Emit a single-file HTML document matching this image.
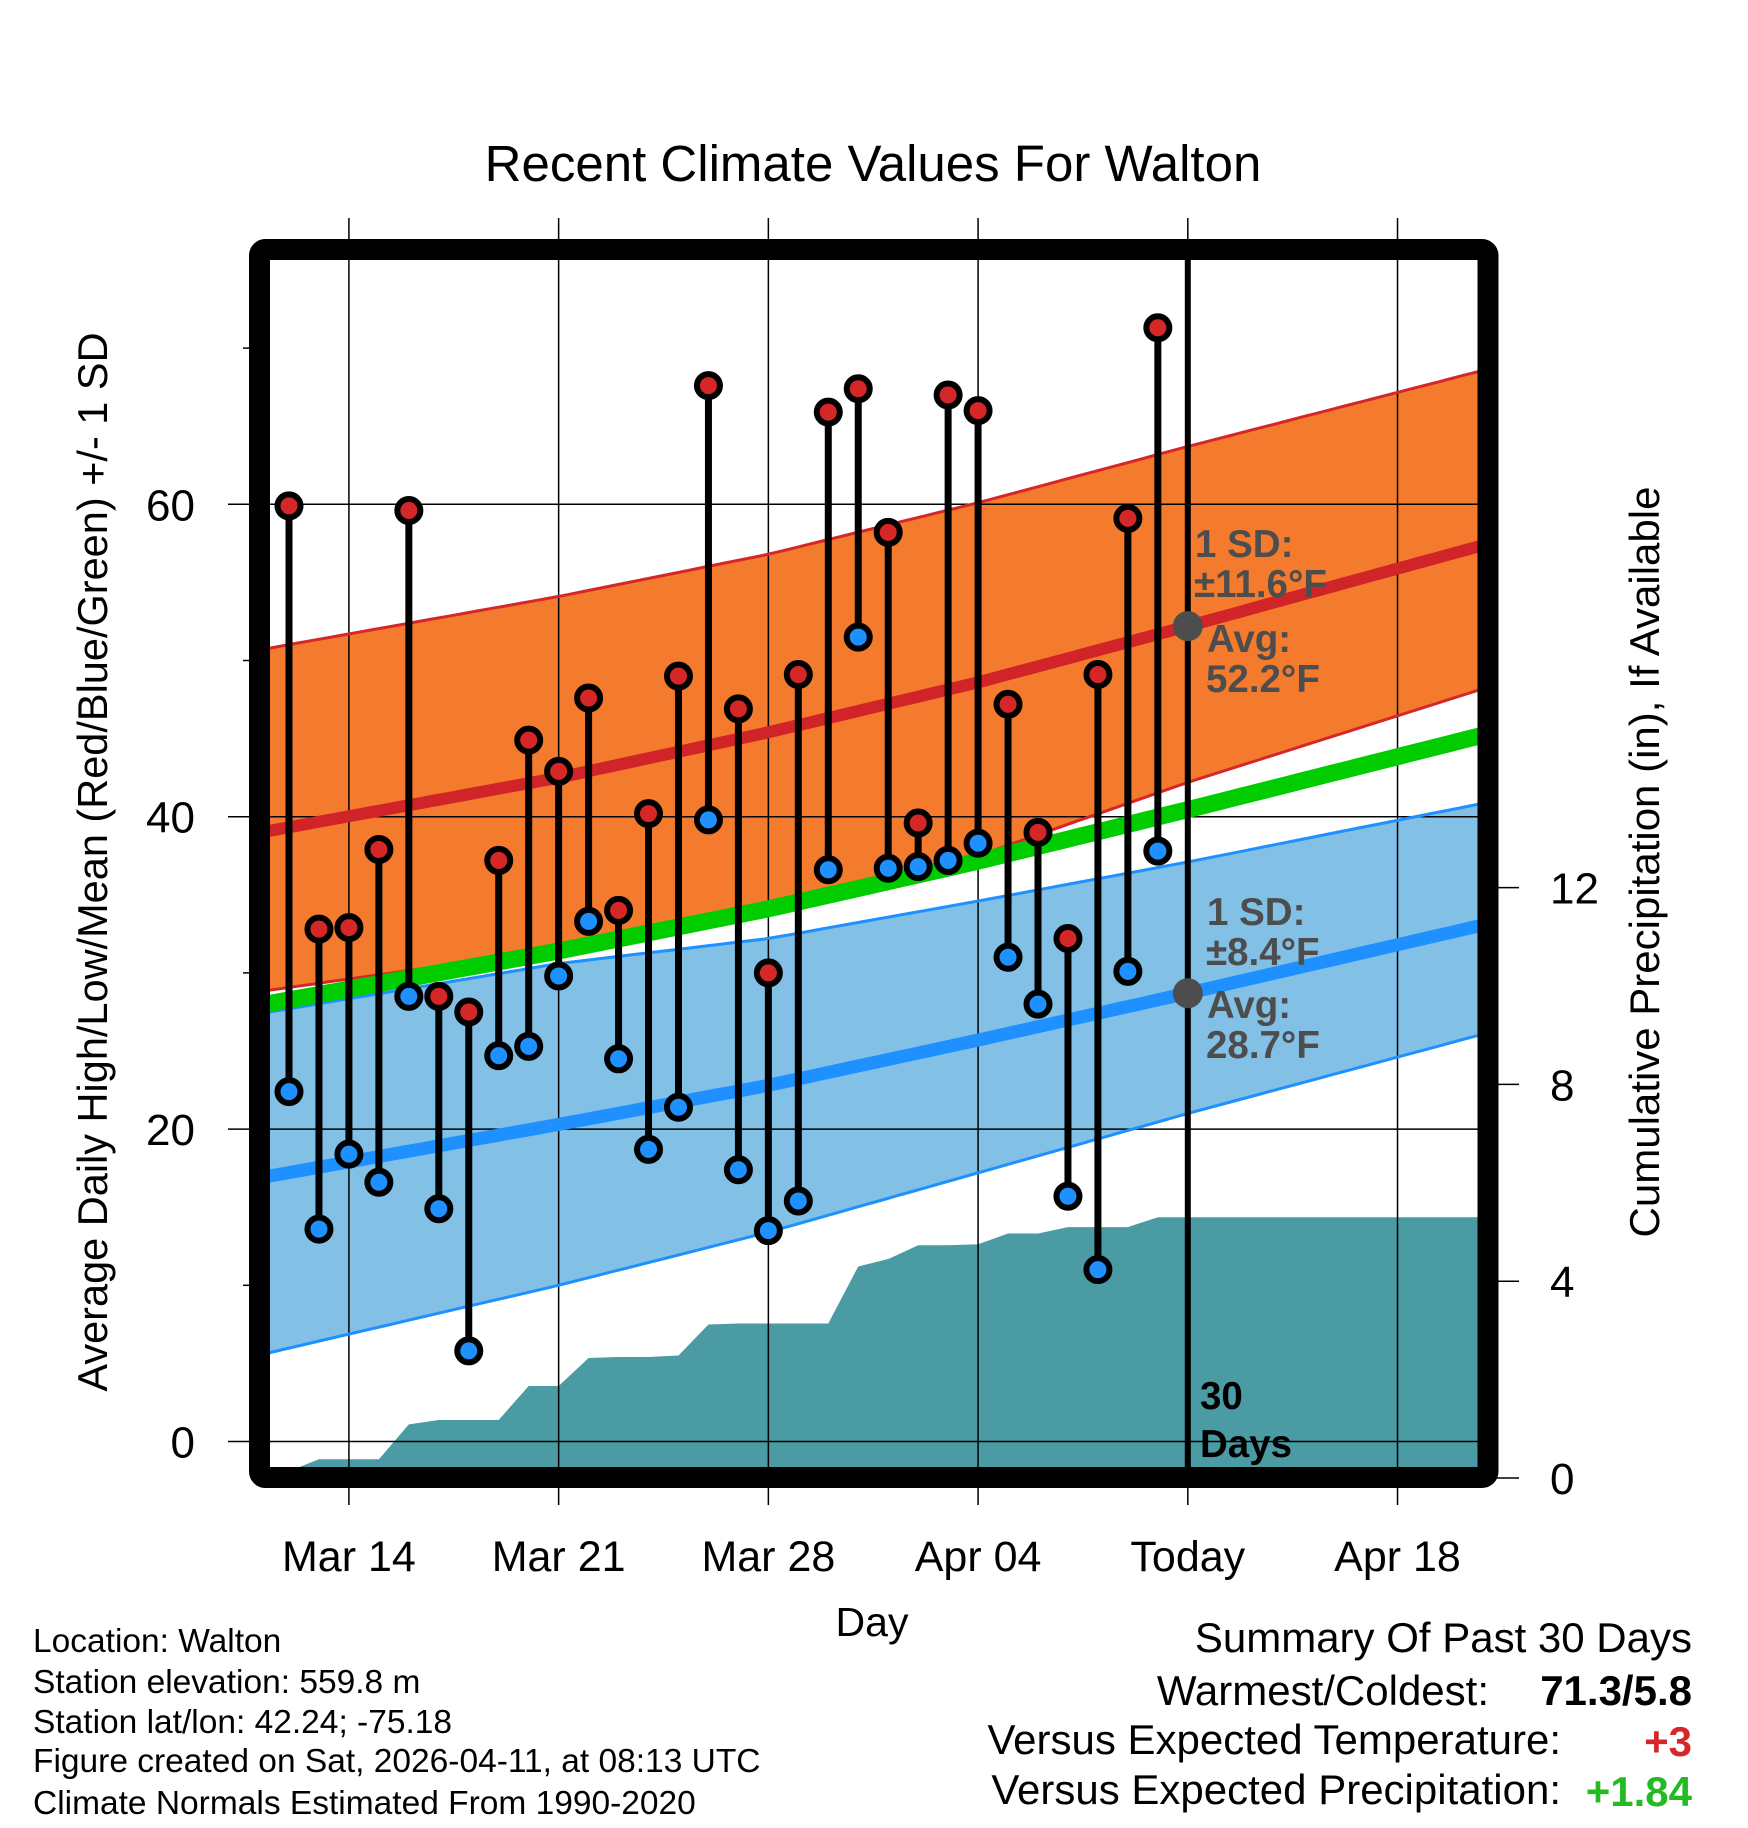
<!DOCTYPE html>
<html><head><meta charset="utf-8"><style>
html,body{margin:0;padding:0;background:#fff;}
svg{display:block;font-family:"Liberation Sans",Arial,sans-serif;}
</style></head><body>
<svg id="chart" width="1748" height="1828" viewBox="0 0 1748 1828" xmlns="http://www.w3.org/2000/svg">
<defs><clipPath id="plotclip"><rect x="270" y="260" width="1208" height="1208"/></clipPath></defs>
<text x="873" y="181" font-size="51" text-anchor="middle">Recent Climate Values For Walton</text>
<g id="fills" clip-path="url(#plotclip)"></g>
<g id="grid"></g>
<g id="lines" clip-path="url(#plotclip)"></g>
<g id="marks"></g>
<g id="annot"></g>
<rect x="259.5" y="249.5" width="1228.5" height="1228" fill="none" stroke="#000" stroke-width="21" rx="6"/>
<g id="axes"></g>
<text x="872" y="1636" font-size="41" text-anchor="middle">Day</text>
<text transform="translate(107,862) rotate(-90)" font-size="41.5" text-anchor="middle">Average Daily High/Low/Mean (Red/Blue/Green) +/- 1 SD</text>
<text transform="translate(1659,862) rotate(-90)" font-size="42" text-anchor="middle">Cumulative Precipitation (in), If Available</text>
<g font-size="33.5">
<text x="33" y="1652">Location: Walton</text>
<text x="33" y="1693">Station elevation: 559.8 m</text>
<text x="33" y="1733">Station lat/lon: 42.24; -75.18</text>
<text x="33" y="1772">Figure created on Sat, 2026-04-11, at 08:13 UTC</text>
<text x="33" y="1814">Climate Normals Estimated From 1990-2020</text>
</g>
<g font-size="42">
<text x="1692" y="1652" text-anchor="end">Summary Of Past 30 Days</text>
<text x="1489" y="1705" text-anchor="end">Warmest/Coldest:</text>
<text x="1692" y="1705" text-anchor="end" font-weight="bold">71.3/5.8</text>
<text x="1561" y="1754" text-anchor="end">Versus Expected Temperature:</text>
<text x="1692" y="1756" text-anchor="end" font-weight="bold" fill="#d62728">+3</text>
<text x="1561" y="1804" text-anchor="end">Versus Expected Precipitation:</text>
<text x="1692" y="1806" text-anchor="end" font-weight="bold" fill="#22bb22">+1.84</text>
</g>
</svg>
<script>
// Observed data (day index 0 = Mar 12)
const dayLabels = ["Mar 14","Mar 21","Mar 28","Apr 04","Today","Apr 18"];
const dayTicks = [2,9,16,23,30,37];
const highs = [59.9,32.8,32.9,37.9,59.6,28.5,27.5,37.2,44.9,42.9,47.6,34.0,40.2,49.0,67.6,46.9,30.0,49.1,65.9,67.4,58.2,39.6,67.0,66.0,47.2,39.0,32.2,49.1,59.1,71.3];
const lows = [22.4,13.6,18.4,16.6,28.5,14.9,5.8,24.7,25.3,29.8,33.3,24.5,18.7,21.4,39.8,17.4,13.5,15.4,36.6,51.5,36.7,36.8,37.2,38.3,31.0,28.0,15.7,11.0,30.1,37.8];
const precip = [0.14,0.38,0.38,0.38,1.09,1.18,1.18,1.18,1.87,1.87,2.44,2.46,2.46,2.49,3.12,3.14,3.14,3.14,3.14,4.30,4.45,4.73,4.73,4.75,4.97,4.97,5.10,5.10,5.10,5.30];
// Normals sampled at day indices
const normDays = [-0.63,9,16,23,30,39.7];
const hiMean = [39.1,42.5,45.4,48.6,52.2,57.3];
const hiUpper = [50.8,54.1,56.8,60.1,63.7,68.5];
const hiLower = [28.9,31.5,34.1,37.5,42.2,48.1];
const loMean = [17.0,20.3,22.8,25.7,28.7,33.0];
const loUpper = [27.5,30.6,32.2,34.6,37.1,40.8];
const loLower = [5.7,10.0,13.4,17.2,21.0,26.0];
const tempTicks = [0,20,40,60];
const tempMinor = [10,30,50,70];
const precipTicks = [0,4,8,12];

const NS="http://www.w3.org/2000/svg";
const xS = d => 289 + d*29.96;
const yT = t => 1441.5 - t*15.62;
const yP = p => 1478 - p*49.2;
function mk(parent,tag,attrs){const e=document.createElementNS(NS,tag);for(const k in attrs)e.setAttribute(k,attrs[k]);document.getElementById(parent).appendChild(e);return e;}
function interp(arr,d){for(let i=0;i<normDays.length-1;i++){if(d<=normDays[i+1]||i==normDays.length-2){const f=(d-normDays[i])/(normDays[i+1]-normDays[i]);return arr[i]+f*(arr[i+1]-arr[i]);}}}
const samp=[];for(let d=-0.7;d<=39.8;d+=0.5)samp.push(d);
function linePts(arr){return samp.map(d=>xS(d).toFixed(1)+","+yT(interp(arr,d)).toFixed(1)).join(" ");}
function bandPts(up,lo){const a=samp.map(d=>xS(d).toFixed(1)+","+yT(interp(up,d)).toFixed(1));const b=samp.slice().reverse().map(d=>xS(d).toFixed(1)+","+yT(interp(lo,d)).toFixed(1));return a.concat(b).join(" ");}

let e;
e=mk("fills","polygon",{points:bandPts(hiUpper,hiLower),fill:"#f47a2e"});


e=mk("fills","polygon",{points:bandPts(loUpper,loLower),fill:"#82c0e6"});


// precip area
let pp=[xS(-0.7)+","+yP(0)];
pp.push(xS(-0.63)+","+yP(0));
precip.forEach((v,i)=>pp.push(xS(i)+","+yP(v)));
pp.push(xS(40)+","+yP(precip[precip.length-1]));
pp.push(xS(40)+","+yP(0));
e=mk("fills","polygon",{points:pp.join(" "),fill:"#4a9ba3"});



// grid
dayTicks.forEach((d,i)=>{
  e=mk("grid","line",{x1:xS(d),x2:xS(d),y1:218,y2:1505,stroke:"#000","stroke-width":1.5});
  
  
  e=mk("axes","text",{x:xS(d),y:1571,"font-size":43,"text-anchor":"middle"});
  
  
  e.textContent=dayLabels[i];
});
tempTicks.forEach(t=>{
  e=mk("grid","line",{x1:228,x2:1478,y1:yT(t),y2:yT(t),stroke:"#000","stroke-width":1.5});
  
  
  e=mk("axes","text",{x:195,y:yT(t)+16,"font-size":44,"text-anchor":"end"});
  
  
  e.textContent=t;
});
tempMinor.forEach(t=>{
  e=mk("axes","line",{x1:243,x2:252,y1:yT(t),y2:yT(t),stroke:"#000","stroke-width":1.5});
  
  
});
precipTicks.forEach(p=>{
  e=mk("axes","line",{x1:1495,x2:1519,y1:yP(p),y2:yP(p),stroke:"#000","stroke-width":1.5});
  
  
  e=mk("axes","text",{x:1550,y:yP(p)+16,"font-size":44});
  
  
  e.textContent=p;
});

// lines
[[hiUpper,"#d62728",3,'high-upper-line'],[hiLower,"#d62728",3,'high-lower-line'],[loUpper,"#1e90ff",3,'low-upper-line'],[loLower,"#1e90ff",3,'low-lower-line'],[hiMean,"#d02428",12,'high-mean-line'],[loMean,"#1e90ff",13,'low-mean-line']].forEach(a=>{
  e=mk("lines","polyline",{points:linePts(a[0]),fill:"none",stroke:a[1],"stroke-width":a[2]});
  
  
});
const mid=normDays.map((d,i)=>(hiMean[i]+loMean[i])/2);
e=mk("lines","polyline",{points:linePts(mid),fill:"none",stroke:"#00cc00","stroke-width":17});



// today line
e=mk("marks","line",{x1:xS(30),x2:xS(30),y1:260,y2:1468,stroke:"#000","stroke-width":6});



// stems and markers
highs.forEach((h,i)=>{
  e=mk("marks","line",{x1:xS(i),x2:xS(i),y1:yT(h),y2:yT(lows[i]),stroke:"#000","stroke-width":7});
  
  
});
highs.forEach((h,i)=>{
  e=mk("marks","circle",{cx:xS(i),cy:yT(h),r:11.5,fill:"#d62728",stroke:"#000","stroke-width":6});
  
  
  e=mk("marks","circle",{cx:xS(i),cy:yT(lows[i]),r:11.5,fill:"#1e90ff",stroke:"#000","stroke-width":6});
  
  
});

// annotations
const todayHi=interp(hiMean,30), todayLo=interp(loMean,30);
e=mk("annot","circle",{cx:xS(30),cy:yT(todayHi),r:15,fill:"#4d4d4d"});


e=mk("annot","circle",{cx:xS(30),cy:yT(todayLo),r:15,fill:"#4d4d4d"});


const notes=[["1 SD:",1195,557,"#4d4d4d"],["±11.6°F",1194,597,"#4d4d4d"],["Avg:",1207,652,"#4d4d4d"],["52.2°F",1206,692,"#4d4d4d"],
["1 SD:",1207,925,"#4d4d4d"],["±8.4°F",1206,965,"#4d4d4d"],["Avg:",1207,1018,"#4d4d4d"],["28.7°F",1206,1058,"#4d4d4d"],
["30",1200,1409,"#000"],["Days",1200,1457,"#000"]];
notes.forEach(n=>{
  e=mk("annot","text",{x:n[1],y:n[2],"font-size":38.5,"font-weight":"bold",fill:n[3]});
  
  
  e.textContent=n[0];
});
</script>
</body></html>
